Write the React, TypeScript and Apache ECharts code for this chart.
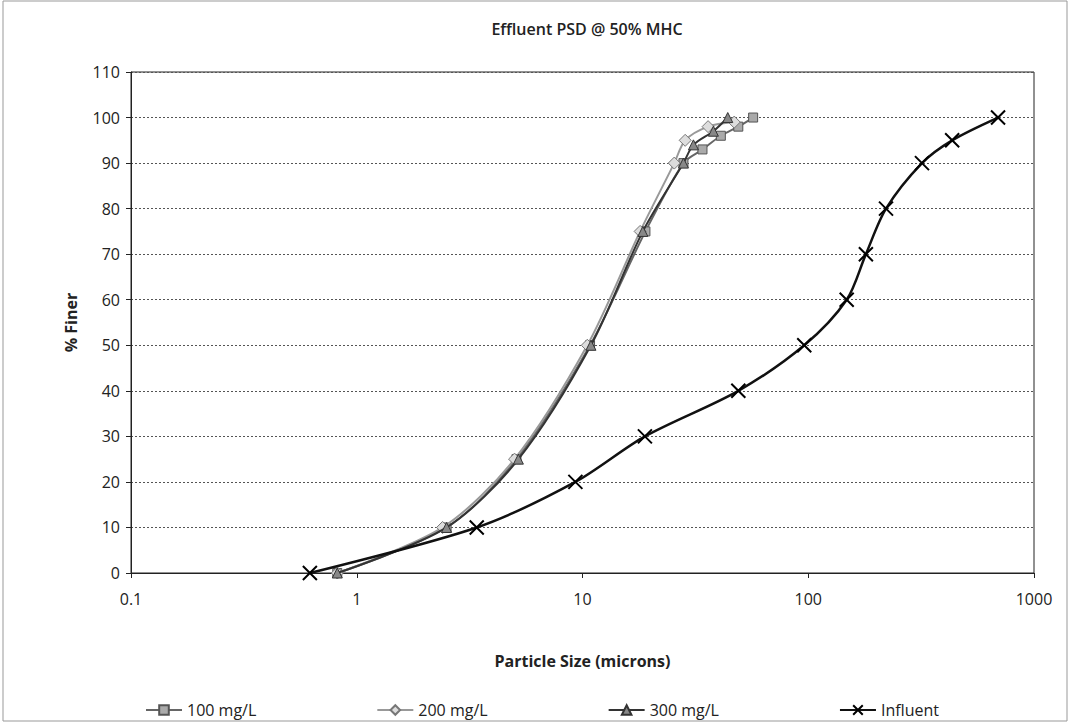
import React, { useEffect, useRef } from "react";
import * as echarts from "echarts";

const title = "Effluent PSD @ 50% MHC";
const xName = "Particle Size (microns)";
const yName = "% Finer";
const seriesNames = ["100 mg/L", "200 mg/L", "300 mg/L", "Influent"];

const size100 = [0.82, 2.5, 5.1, 10.8, 19, 28, 34, 41, 49, 57];
const pct100 = [0, 10, 25, 50, 75, 90, 93, 96, 98, 100];

const size200 = [0.82, 2.4, 5.0, 10.5, 18, 25.5, 28.5, 36, 47];
const pct200 = [0, 10, 25, 50, 75, 90, 95, 98, 99];

const size300 = [0.82, 2.5, 5.2, 10.9, 18.5, 28, 31, 38, 44];
const pct300 = [0, 10, 25, 50, 75, 90, 94, 97, 100];

const sizeInf = [0.62, 3.4, 9.3, 18.9, 49, 96, 148, 180, 221, 319, 434, 693];
const pctInf = [0, 10, 20, 30, 40, 50, 60, 70, 80, 90, 95, 100];

const xTickLabels: Record<string, string> = { "0.1": "0.1", "1": "1", "10": "10", "100": "100", "1000": "1000" };

const pairs = (xs: number[], ys: number[]) => xs.map((x, i) => [x, ys[i]]);

const FONT = "'Open Sans', 'Noto Sans', sans-serif";
const X_SYMBOL = "path://M0,0L10,10M10,0L0,10";

export default function App() {
  const ref = useRef<HTMLDivElement>(null);
  useEffect(() => {
    document.body.style.margin = "0";
    if (!ref.current) return;
    const chart = echarts.init(ref.current, undefined, { renderer: "svg" });
    chart.setOption({
      animation: false,
      backgroundColor: "#fff",
      textStyle: { fontFamily: FONT },
      title: {
        text: title,
        left: 582,
        textAlign: "center",
        top: 16,
        textStyle: { fontSize: 16, fontWeight: 600, color: "#222", fontFamily: FONT },
      },
      graphic: [
        {
          type: "rect",
          shape: { x: 3, y: 1, width: 1064, height: 720 },
          style: { fill: "none", stroke: "#999", lineWidth: 1 },
          silent: true,
        },
      ],
      grid: {
        left: 131,
        right: 38,
        top: 72,
        bottom: 152,
        show: true,
        borderColor: "#222",
        borderWidth: 1,
      },
      legend: {
        left: 140,
        top: 697,
        itemWidth: 36,
        itemHeight: 12,
        itemGap: 120,
        textStyle: { fontSize: 16, color: "#222", fontFamily: FONT },
        data: seriesNames,
      },
      xAxis: {
        type: "log",
        logBase: 10,
        min: 0.1,
        max: 1000,
        name: xName,
        nameLocation: "middle",
        nameGap: 80,
        nameTextStyle: { fontSize: 16, fontWeight: "bold", color: "#222", fontFamily: FONT },
        axisLine: { show: true, lineStyle: { color: "#222" } },
        axisTick: { show: true, length: 5, lineStyle: { color: "#222" } },
        splitLine: { show: false },
        axisLabel: {
          margin: 18,
          fontSize: 16,
          color: "#222",
          fontFamily: FONT,
          formatter: (v: number) => xTickLabels[String(+v.toPrecision(6))] ?? String(v),
        },
      },
      yAxis: {
        type: "value",
        min: 0,
        max: 110,
        interval: 10,
        name: yName,
        nameLocation: "middle",
        nameGap: 52,
        nameTextStyle: { fontSize: 16, fontWeight: "bold", color: "#222", fontFamily: FONT },
        axisLine: { show: true, lineStyle: { color: "#222" } },
        axisTick: { show: true, length: 5, lineStyle: { color: "#222" } },
        splitLine: { show: true, lineStyle: { color: "#555", type: [2, 2], width: 1 } },
        axisLabel: { margin: 11, fontSize: 16, color: "#222", fontFamily: FONT },
      },
      series: [
        {
          name: seriesNames[0],
          type: "line",
          smooth: 0.3,
          data: pairs(size100, pct100),
          lineStyle: { color: "#666", width: 2 },
          symbol: "rect",
          symbolSize: 9,
          itemStyle: { color: "#aaa", borderColor: "#555", borderWidth: 1 },
          z: 3,
        },
        {
          name: seriesNames[1],
          type: "line",
          smooth: 0.3,
          data: pairs(size200, pct200),
          lineStyle: { color: "#999", width: 2 },
          symbol: "diamond",
          symbolSize: 12,
          itemStyle: { color: "#ddd", borderColor: "#777", borderWidth: 1 },
          z: 4,
        },
        {
          name: seriesNames[2],
          type: "line",
          smooth: 0.3,
          data: pairs(size300, pct300),
          lineStyle: { color: "#333", width: 2 },
          symbol: "triangle",
          symbolSize: 10,
          itemStyle: { color: "#888", borderColor: "#333", borderWidth: 1 },
          z: 5,
        },
        {
          name: seriesNames[3],
          type: "line",
          smooth: 0.3,
          data: pairs(sizeInf, pctInf),
          lineStyle: { color: "#111", width: 2.5 },
          symbol: X_SYMBOL,
          symbolSize: 14,
          itemStyle: { color: "none", borderColor: "#000", borderWidth: 2 },
          z: 6,
        },
      ],
    });
    return () => chart.dispose();
  }, []);
  return <div ref={ref} style={{ width: 1072, height: 725 }} />;
}
